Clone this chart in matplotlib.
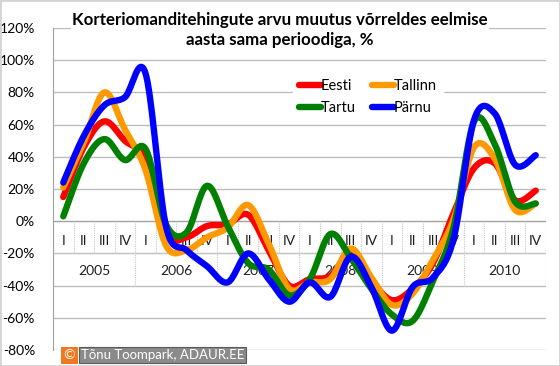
import numpy as np
import matplotlib
matplotlib.use('Agg')
import matplotlib.pyplot as plt
from matplotlib.patches import Rectangle

plt.rcParams['font.family'] = ['Lato', 'DejaVu Sans']

title = 'Korteriomanditehingute arvu muutus võrreldes eelmise\naasta sama perioodiga, %'
years = ['2005', '2006', '2007', '2008', '2009', '2010']
quarters = ['I', 'II', 'III', 'IV'] * len(years)

names = ['Eesti', 'Tallinn', 'Tartu', 'Pärnu']
colors = ['#ff0000', '#ff9900', '#008000', '#0000ff']

eesti = [15, 46, 62, 50, 38, -8, -10, -3, -2, 4, -18, -40,
         -36, -34, -20, -37, -49, -42, -26, 5, 33, 36, 13, 19]
tallinn = [21, 49, 80, 57, 32, -15, -18, -10, -4, 10, -14, -42,
           -38, -36, -17, -35, -52, -45, -24, 1, 46, 39, 7, 11]
tartu = [3, 36, 51, 38, 45, -2, -7, 22, -3, -26, -30, -46,
         -36, -8, -23, -42, -58, -62, -37, -4, 62, 48, 12, 11]
parnu = [24, 53, 72, 77, 92, -3, -18, -28, -38, -20, -36, -50,
         -38, -47, -22, -41, -68, -41, -35, -11, 63, 67, 35, 41]
series = [eesti, tallinn, tartu, parnu]


def smooth(y, n = 20):
    """
    catmull-rom style bezier through the points, like excel smoothed lines
    """
    y = np.asarray(y, dtype = float)
    x = np.arange(len(y), dtype = float)
    p = np.column_stack([x, y])
    p = np.vstack([p[0], p, p[-1]])
    out = []
    t = np.linspace(0, 1, n)[:, None]
    for i in range(1, len(p) - 2):
        p0, p1, p2, p3 = p[i-1], p[i], p[i+1], p[i+2]
        c1 = p1 + (p2 - p0)/6.
        c2 = p2 - (p3 - p1)/6.
        seg = ((1-t)**3*p1 + 3*(1-t)**2*t*c1 + 3*(1-t)*t**2*c2 + t**3*p2)
        out.append(seg if i == 1 else seg[1:])
    out = np.vstack(out)
    return out[:, 0], out[:, 1]


fig = plt.figure(figsize = (5.6, 3.66), dpi = 100)
fig.patch.set_facecolor('white')
ax = fig.add_axes([53/560., 1 - 350/366., (546 - 53)/560., (350 - 28)/366.])

grid_c = '#bdbdbd'
ax.set_ylim(-80, 120)
ax.set_xlim(-0.5, len(quarters) - 0.5)
ax.set_yticks(np.arange(-80, 121, 20))
ax.set_yticklabels(['{0}%'.format(v) for v in range(-80, 121, 20)])
ax.set_xticks([])
ax.tick_params(axis = 'y', length = 0, pad = 13, labelsize = 10)
for s in ['top', 'right', 'bottom']:
    ax.spines[s].set_visible(False)
ax.spines['left'].set_color('#a0a0a0')
for v in range(-80, 121, 20):
    if v != 0:
        ax.axhline(v, color = grid_c, lw = 1, zorder = 0)
ax.axhline(0, color = '#a0a0a0', lw = 1, zorder = 1)

# category table under the zero line
n = len(quarters)
for i in range(n + 1):
    top = -40 if i % 4 == 0 else -20
    ax.plot([i - 0.5, i - 0.5], [0, top], color = '#c8c8c8', lw = 0.8,
            ls = (0, (1, 1)), zorder = 1)
ax.plot([-0.5, n - 0.5], [-20, -20], color = '#c8c8c8', lw = 0.8,
        ls = (0, (1, 1)), zorder = 1)
for i, q in enumerate(quarters):
    ax.text(i, -12, q, ha = 'center', va = 'center', fontsize = 10,
            color = '#202020', zorder = 2)
for k, yr in enumerate(years):
    ax.text(4*k + 1.5, -31, yr, ha = 'center', va = 'center', fontsize = 10,
            color = '#202020', zorder = 2)

lines = {}
for vals, name, c in zip(series, names, colors):
    xs, ys = smooth(vals)
    lines[name], = ax.plot(xs, ys, color = c, lw = 4.6,
                           solid_capstyle = 'round', label = name, zorder = 3)

# legend is filled column by column, so reorder to get Eesti/Tallinn on row 1
order = ['Eesti', 'Tartu', 'Tallinn', 'Pärnu']
leg = ax.legend([lines[k] for k in order], order,
                loc = 'upper left', bbox_to_anchor = (286/560., 1 - 66/366.),
                bbox_transform = fig.transFigure, ncol = 2, fontsize = 10.5,
                frameon = True, fancybox = False, handlelength = 1.5,
                handletextpad = 0.0, columnspacing = 1.1, labelspacing = 0.55,
                borderpad = 0.4)
leg.get_frame().set_edgecolor('white')
leg.get_frame().set_facecolor('white')
leg.get_frame().set_alpha(1)
leg.set_zorder(5)

fig.text(280/560., 1 - 30/366., title, ha = 'center', va = 'center',
         fontsize = 12.2, fontweight = 'bold', linespacing = 1.3,
         bbox = dict(facecolor = 'white', edgecolor = 'none', pad = 1))

# watermark
fig.text(81/560., 1 - 355/366., 'Tõnu Toompark, ADAUR.EE', ha = 'left',
         va = 'center', fontsize = 9.5, color = 'white',
         bbox = dict(facecolor = '#8a8a8a', edgecolor = '#5a5a5a',
                     boxstyle = 'square,pad=0.15', lw = 0.8))
fig.text(69.5/560., 1 - 355/366., '©', ha = 'center', va = 'center',
         fontsize = 10, color = 'white',
         bbox = dict(facecolor = '#f07820', edgecolor = 'none',
                     boxstyle = 'square,pad=0.18'))

fig.patches.append(Rectangle((0, 0), 1, 1, transform = fig.transFigure,
                             fill = False, edgecolor = '#d4d4d4', lw = 2))

fig.savefig('out.png', dpi = 100)
